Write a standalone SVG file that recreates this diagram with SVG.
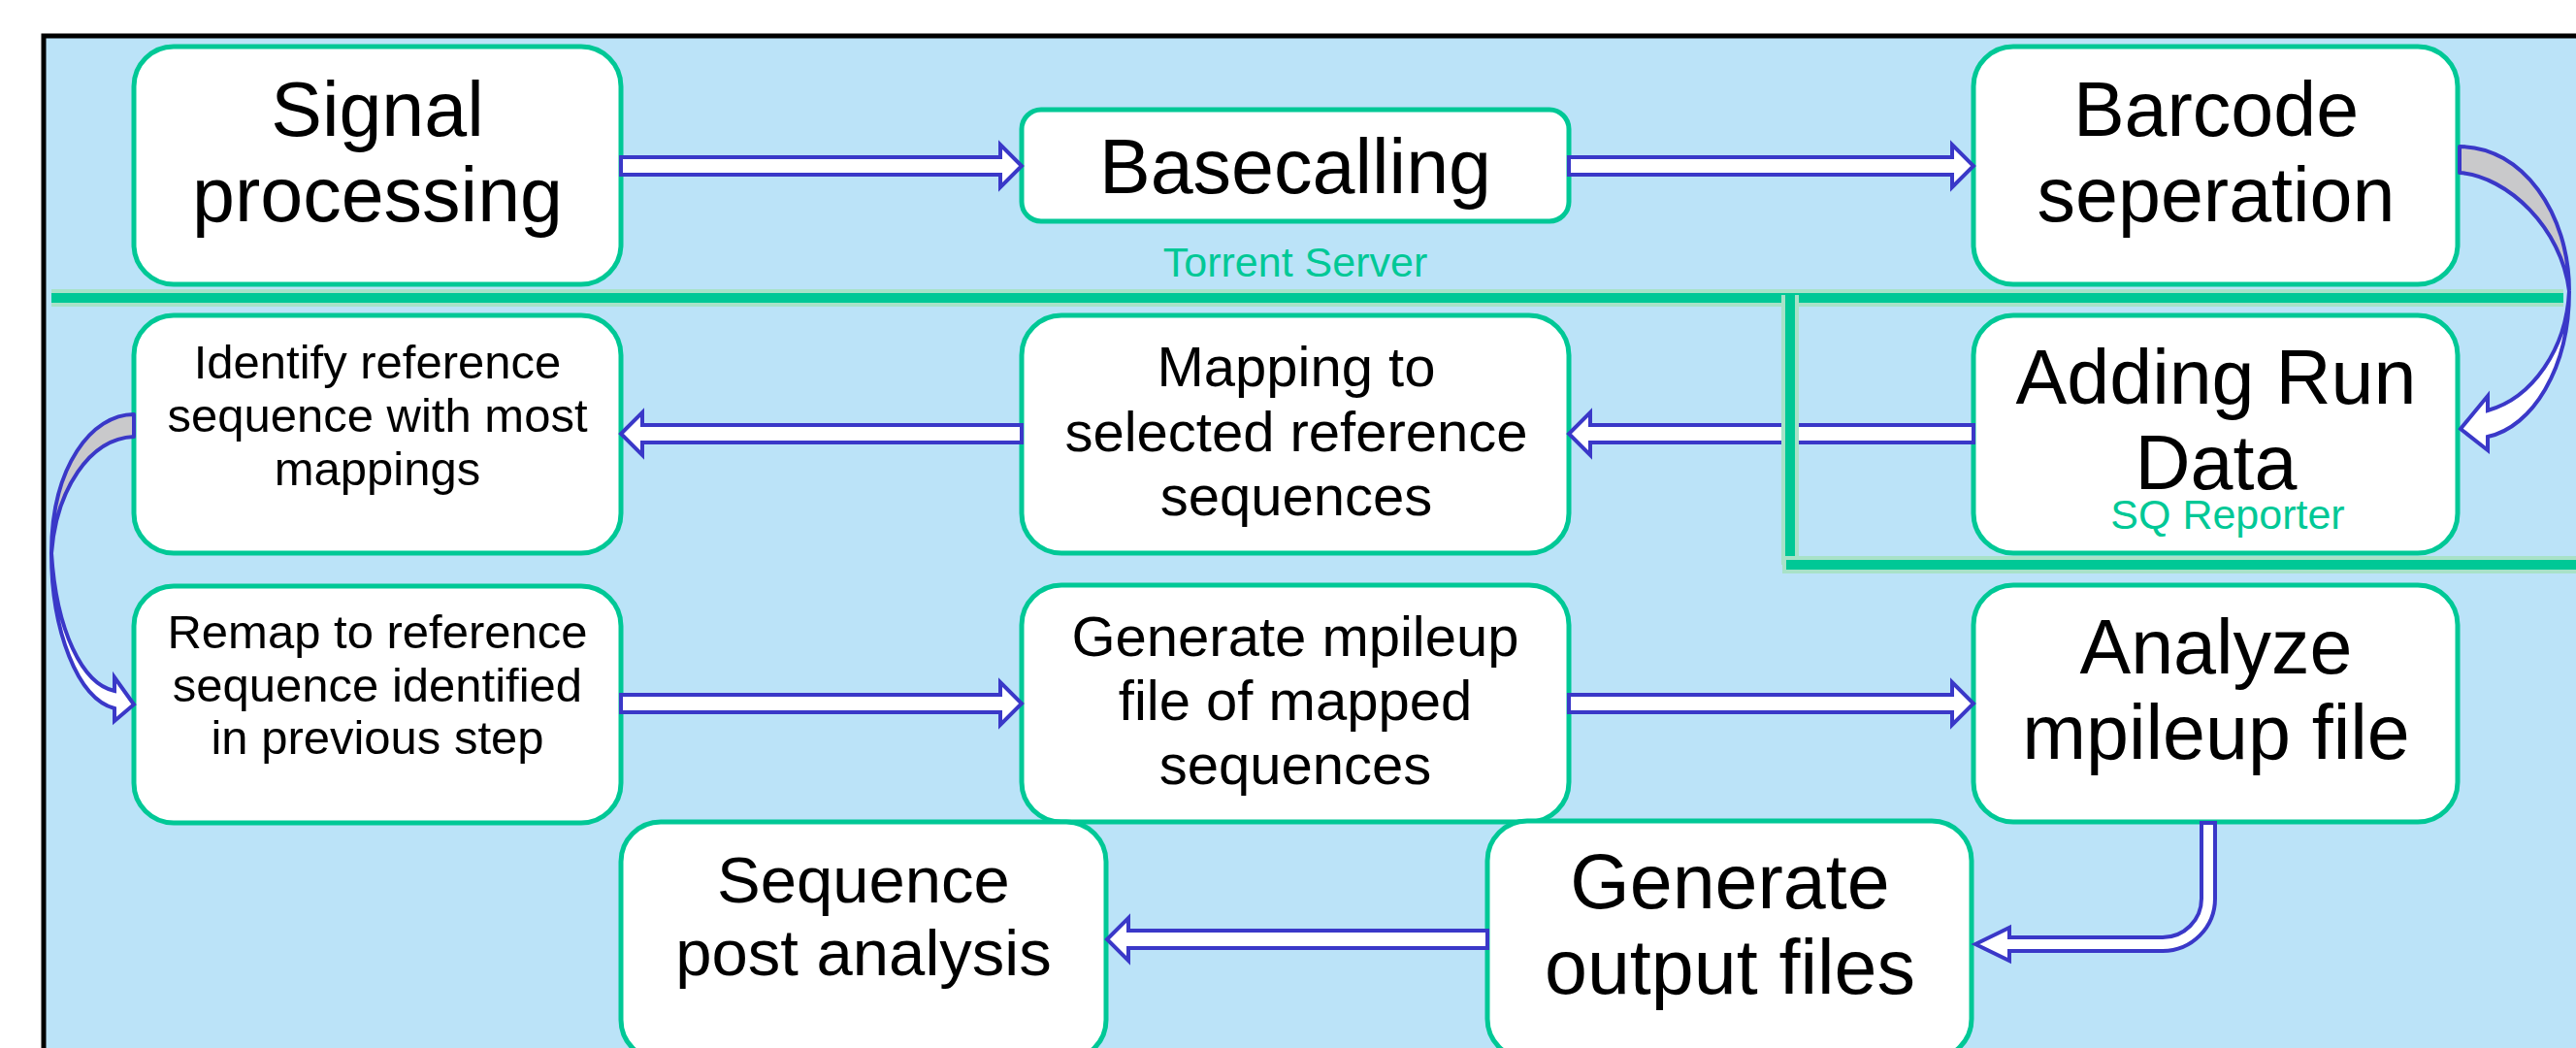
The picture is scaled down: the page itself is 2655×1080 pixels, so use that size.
<svg xmlns="http://www.w3.org/2000/svg" width="2655" height="1080" viewBox="0 0 2655 1080">
  <style>
    .box { fill: #ffffff; stroke: #00C896; stroke-width: 5; }
    .t { font-family: "Liberation Sans", Arial, sans-serif; fill: #000000; text-anchor: middle; }
    .xl { font-size: 79px; }
    .lg { font-size: 67px; }
    .md { font-size: 58px; }
    .sm { font-size: 49px; }
    .lbl { font-family: "Liberation Sans", Arial, sans-serif; font-size: 43px; fill: #00C896; text-anchor: middle; }
    .arr { fill: #ffffff; stroke: #3A38C8; stroke-width: 4; stroke-linejoin: miter; }
    .back { fill: #C9C9CB; stroke: #3A38C8; stroke-width: 4; stroke-linejoin: round; }
    .halo { stroke: #A8E2C8; stroke-width: 18; fill: none; }
    .rule { stroke: #00C896; stroke-width: 10; fill: none; }
  </style>

  <!-- page and framed panel -->
  <rect x="0" y="0" width="2655" height="1080" fill="#ffffff"/>
  <rect x="45" y="37" width="2700" height="1100" fill="#BBE3F8" stroke="#000000" stroke-width="5"/>

  <!-- process steps -->
  <g id="signal-processing">
    <rect class="box" x="138" y="48" width="502" height="245" rx="41"/>
    <text class="t xl" x="389" y="140">Signal</text>
    <text class="t xl" x="389" y="228">processing</text>
  </g>
  <g id="basecalling">
    <rect class="box" x="1053" y="113" width="564" height="115" rx="20"/>
    <text class="t xl" x="1335" y="199">Basecalling</text>
  </g>
  <g id="barcode-separation">
    <rect class="box" x="2034" y="48" width="499" height="245" rx="41"/>
    <text class="t xl" x="2284" y="140">Barcode</text>
    <text class="t xl" x="2284" y="228">seperation</text>
  </g>
  <g id="identify-reference">
    <rect class="box" x="138" y="325" width="502" height="245" rx="41"/>
    <text class="t sm" x="389" y="390">Identify reference</text>
    <text class="t sm" x="389" y="445">sequence with most</text>
    <text class="t sm" x="389" y="500">mappings</text>
  </g>
  <g id="mapping">
    <rect class="box" x="1053" y="325" width="564" height="245" rx="41"/>
    <text class="t md" x="1336" y="398">Mapping to</text>
    <text class="t md" x="1336" y="465">selected reference</text>
    <text class="t md" x="1336" y="531">sequences</text>
  </g>
  <g id="adding-run-data">
    <rect class="box" x="2034" y="325" width="499" height="245" rx="41"/>
    <text class="t xl" x="2284" y="416">Adding Run</text>
    <text class="t xl" x="2284" y="504">Data</text>
  </g>
  <g id="remap">
    <rect class="box" x="138" y="604" width="502" height="244" rx="41"/>
    <text class="t sm" x="389" y="668">Remap to reference</text>
    <text class="t sm" x="389" y="723">sequence identified</text>
    <text class="t sm" x="389" y="777">in previous step</text>
  </g>
  <g id="generate-mpileup">
    <rect class="box" x="1053" y="603" width="564" height="244" rx="41"/>
    <text class="t md" x="1335" y="676">Generate mpileup</text>
    <text class="t md" x="1335" y="742">file of mapped</text>
    <text class="t md" x="1335" y="808">sequences</text>
  </g>
  <g id="analyze-mpileup">
    <rect class="box" x="2034" y="603" width="499" height="244" rx="41"/>
    <text class="t xl" x="2284" y="694">Analyze</text>
    <text class="t xl" x="2284" y="782">mpileup file</text>
  </g>
  <g id="sequence-post-analysis">
    <rect class="box" x="640" y="847" width="500" height="245" rx="41"/>
    <text class="t lg" x="890" y="930">Sequence</text>
    <text class="t lg" x="890" y="1005">post analysis</text>
  </g>
  <g id="generate-output">
    <rect class="box" x="1533" y="846" width="499" height="245" rx="41"/>
    <text class="t xl" x="1783" y="936">Generate</text>
    <text class="t xl" x="1783" y="1024">output files</text>
  </g>

  <!-- connectors: hollow block arrows -->
  <g id="connectors">
    <path class="arr" d="M640,162 L1031,162 L1031,149 L1053,171 L1031,193 L1031,180 L640,180 Z"/>
    <path class="arr" d="M1617,162 L2012,162 L2012,149 L2034,171 L2012,193 L2012,180 L1617,180 Z"/>
    <path class="arr" d="M2034,438 L1639,438 L1639,425 L1617,447 L1639,469 L1639,456 L2034,456 Z"/>
    <path class="arr" d="M1053,438 L662,438 L662,425 L640,447 L662,469 L662,456 L1053,456 Z"/>
    <path class="arr" d="M640,716 L1031,716 L1031,703 L1053,725 L1031,747 L1031,734 L640,734 Z"/>
    <path class="arr" d="M1617,716 L2012,716 L2012,703 L2034,725 L2012,747 L2012,734 L1617,734 Z"/>
    <path class="arr" d="M1533,959 L1163,959 L1163,946 L1141,968 L1163,990 L1163,977 L1533,977 Z"/>
    <!-- bent arrow from Analyze down and back left -->
    <path class="arr" d="M2269,848 L2269,926 A40,40 0 0 1 2229,966 L2071,966 L2071,956 L2036,973 L2071,990 L2071,980 L2229,980 A54,54 0 0 0 2283,926 L2283,848 Z"/>
    <!-- curved arrow on the right: Barcode seperation to Adding Run Data -->
    <g id="curve-right">
      <path class="back" d="M2535,151 C2600,151 2648,220 2648,300 C2640,235 2585,182 2535,178 Z"/>
      <path class="arr" d="M2648,300 C2648,380 2610,440 2564,450 L2564,464 L2536,442 L2564,408 L2564,423 C2610,410 2645,360 2648,300 Z"/>
    </g>
    <!-- curved arrow on the left: Identify reference to Remap -->
    <g id="curve-left">
      <path class="back" d="M138,427 C95,427 53,480 53,570 C58,505 92,452 138,450 Z"/>
      <path class="arr" d="M53,570 C53,650 80,720 118,730 L118,743 L138,726 L118,698 L118,712 C85,705 58,650 53,570 Z"/>
    </g>
  </g>

  <!-- lane dividers -->
  <g id="dividers">
    <line class="halo" x1="53" y1="307" x2="2642" y2="307"/>
    <line class="rule" x1="53" y1="307" x2="2642" y2="307"/>
    <line class="halo" x1="1845" y1="304" x2="1845" y2="582"/>
    <line class="rule" x1="1845" y1="304" x2="1845" y2="582"/>
    <line class="halo" x1="1837" y1="582" x2="2655" y2="582"/>
    <line class="rule" x1="1841" y1="582" x2="2655" y2="582"/>
  </g>

  <!-- lane labels -->
  <text class="lbl" x="1335" y="285">Torrent Server</text>
  <text class="lbl" x="2296" y="545">SQ Reporter</text>
</svg>
